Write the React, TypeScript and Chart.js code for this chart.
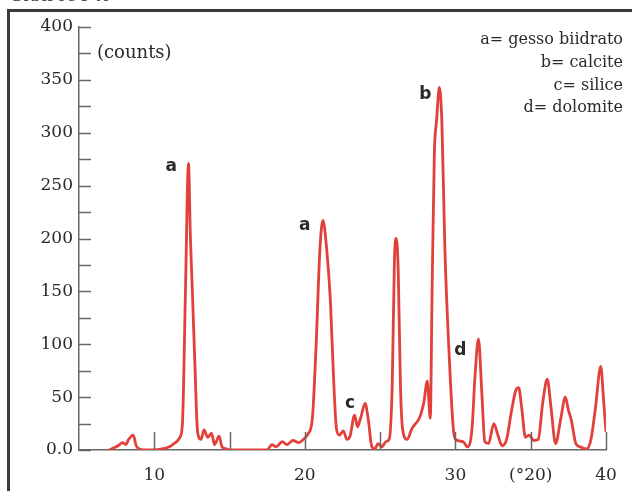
import React, { useEffect, useRef } from 'react';
import { Chart, registerables } from 'chart.js';

Chart.register(...registerables);

// 2θ positions (degrees) and intensities (counts)
const twoTheta = [
  7.0, 7.3, 7.6, 7.9, 8.1, 8.3, 8.6, 8.8, 9.0, 9.5, 10.0, 10.5, 11.0, 11.3, 11.5,
  11.7, 11.87, 12.07, 12.27, 12.4, 12.53, 12.7, 12.87, 13.1, 13.3, 13.55, 13.8, 14.0, 14.3,
  14.5, 14.8, 15.0, 17.5, 17.8, 18.1, 18.5, 18.8, 19.2, 19.6, 19.9, 20.2, 20.5, 20.75,
  21.0, 21.2, 21.45, 21.7, 21.9, 22.1, 22.3, 22.55, 22.8, 23.0, 23.3, 23.5, 23.7, 24.0,
  24.2, 24.45, 24.65, 24.85, 25.1, 25.4, 25.6, 25.8, 25.95, 26.07, 26.2, 26.35, 26.5,
  26.8, 27.1, 27.3, 27.6, 27.9, 28.13, 28.33, 28.45, 28.6, 28.75, 28.93, 29.1, 29.3,
  29.6, 29.85, 30.0, 30.5, 30.8, 31.1, 31.3, 31.53, 31.75, 31.95, 32.2, 32.55, 32.8,
  33.1, 33.4, 33.7, 34.0, 34.2, 34.4, 34.65, 34.9, 35.2, 35.5, 35.8, 36.1, 36.35, 36.65,
  37.0, 37.3, 37.5, 37.7, 38.0, 38.3, 38.7, 39.0, 39.3, 39.65, 39.85, 40.0,
];
const counts = [
  0, 2, 4, 7, 5, 10, 14, 4, 1, 0, 0, 1, 3, 6, 8,
  12, 25, 150, 271, 200, 150, 80, 18, 10, 19, 12, 16, 5, 13,
  3, 1, 0, 0, 5, 3, 8, 5, 9, 7, 10, 15, 30, 100,
  190, 217, 190, 140, 70, 20, 14, 18, 10, 13, 33, 22, 30, 44,
  30, 3, 1, 6, 3, 8, 10, 60, 180, 200, 170, 60, 19,
  10, 20, 24, 30, 45, 65, 30, 150, 280, 312, 343, 310, 190,
  85, 22, 10, 8, 3, 20, 70, 105, 55, 8, 6, 25, 15,
  4, 10, 35, 56, 59, 40, 12, 14, 9, 10, 45, 67, 40, 6,
  30, 50, 38, 28, 6, 3, 1, 10, 40, 79, 45, 17,
];

// axis labels
const xLabelValues = [10, 20, 30, 35, 40];
const xLabelTexts = ['10', '20', '30', '(°20)', '40'];
const yLabelValues = [0, 50, 100, 150, 200, 250, 300, 350, 400];
const yLabelTexts = ['0.0', '50', '100', '150', '200', '250', '300', '350', '400'];
const yUnitValue = 375;
const yUnitText = '(counts)';

// peak annotations (letter, 2θ, counts where the letter sits)
const peakLetters = ['a', 'a', 'b', 'c', 'd'];
const peakLetterX = [11.13, 20.0, 28.0, 23.0, 30.33];
const peakLetterY = [268, 212, 336, 44, 94];

// key
const keyLines = ['a= gesso biidrato', 'b= calcite', 'c= silice', 'd= dolomite'];

const AXIS = '#666666';
const TEXT = '#2a2a2a';
const SERIF = '"DejaVu Serif", "Liberation Serif", serif';

const extras = {
  id: 'extras',
  afterDraw(chart: any) {
    const { ctx, chartArea, scales } = chart;
    const x = scales.x;
    const y = scales.y;
    ctx.save();
    ctx.strokeStyle = AXIS;
    ctx.lineWidth = 1.5;
    // inward y ticks (major + minor)
    y.ticks.forEach((t: any) => {
      const py = Math.round(y.getPixelForValue(t.value)) + 0.5;
      ctx.beginPath();
      ctx.moveTo(chartArea.left, py);
      ctx.lineTo(chartArea.left + 12, py);
      ctx.stroke();
    });
    // inward x ticks
    x.ticks.forEach((t: any) => {
      if (t.value <= x.min) return;
      const px = Math.round(x.getPixelForValue(t.value)) + 0.5;
      ctx.beginPath();
      ctx.moveTo(px, chartArea.bottom);
      ctx.lineTo(px, chartArea.bottom - 18);
      ctx.stroke();
    });
    // unit label next to the 375 tick
    ctx.fillStyle = TEXT;
    ctx.font = '18px ' + SERIF;
    ctx.textAlign = 'left';
    ctx.textBaseline = 'middle';
    ctx.fillText(yUnitText, chartArea.left + 18, y.getPixelForValue(yUnitValue));
    // peak letters
    ctx.font = 'bold 17px "DejaVu Sans", sans-serif';
    ctx.textAlign = 'center';
    peakLetters.forEach((l, i) => {
      ctx.fillText(l, x.getPixelForValue(peakLetterX[i]), y.getPixelForValue(peakLetterY[i]));
    });
    // key, top right
    ctx.font = '16px ' + SERIF;
    ctx.textAlign = 'right';
    keyLines.forEach((l, i) => {
      ctx.fillText(l, chartArea.right + 17, chartArea.top + 13 + i * 22.7);
    });
    ctx.restore();
  },
};

export default function App() {
  const ref = useRef<HTMLCanvasElement | null>(null);
  useEffect(() => {
    if (!ref.current) return;
    const chart = new Chart(ref.current, {
      type: 'line',
      data: {
        datasets: [
          {
            data: twoTheta.map((t, i) => ({ x: t, y: counts[i] })),
            borderColor: '#e2403a',
            borderWidth: 2.8,
            pointRadius: 0,
            fill: false,
            cubicInterpolationMode: 'monotone',
          },
        ],
      },
      options: {
        animation: false,
        responsive: false,
        maintainAspectRatio: false,
        layout: { padding: { left: 0, right: 26, top: 27, bottom: 0 } },
        plugins: { legend: { display: false }, tooltip: { enabled: false } },
        scales: {
          x: {
            type: 'linear',
            min: 5,
            max: 40,
            afterFit: (s: any) => {
              s.height = 41;
            },
            border: { display: true, color: AXIS, width: 1.5 },
            grid: { display: false, drawTicks: false },
            ticks: {
              stepSize: 5,
              autoSkip: false,
              maxRotation: 0,
              padding: 15,
              color: TEXT,
              font: { family: SERIF, size: 17 },
              callback: (v: any) => {
                const i = xLabelValues.indexOf(Number(v));
                return i >= 0 ? xLabelTexts[i] : '';
              },
            },
          },
          y: {
            type: 'linear',
            min: 0,
            max: 400,
            afterFit: (s: any) => {
              s.width = 79;
            },
            border: { display: true, color: AXIS, width: 1.5 },
            grid: { display: false, drawTicks: false },
            ticks: {
              stepSize: 25,
              autoSkip: false,
              padding: 6,
              color: TEXT,
              font: { family: SERIF, size: 17 },
              callback: (v: any) => {
                const i = yLabelValues.indexOf(Number(v));
                return i >= 0 ? yLabelTexts[i] : '';
              },
            },
          },
        },
      },
      plugins: [extras],
    });
    return () => chart.destroy();
  }, []);

  return (
    <div
      style={{
        position: 'absolute',
        left: 0,
        top: 0,
        width: 632,
        height: 491,
        overflow: 'hidden',
        background: '#ffffff',
      }}
    >
      <div
        style={{
          position: 'absolute',
          left: 10,
          top: -11,
          fontFamily: SERIF,
          fontSize: 15,
          lineHeight: '15px',
          color: '#444',
          letterSpacing: 1,
        }}
      >
        GRAFICO A
      </div>
      <div
        style={{
          position: 'absolute',
          left: 7,
          top: 9,
          width: 700,
          height: 600,
          borderLeft: '3px solid #3a3a3a',
          borderTop: '3px solid #3a3a3a',
        }}
      />
      <canvas
        ref={ref}
        width={632}
        height={491}
        style={{ position: 'absolute', left: 0, top: 0, width: 632, height: 491 }}
      />
    </div>
  );
}
